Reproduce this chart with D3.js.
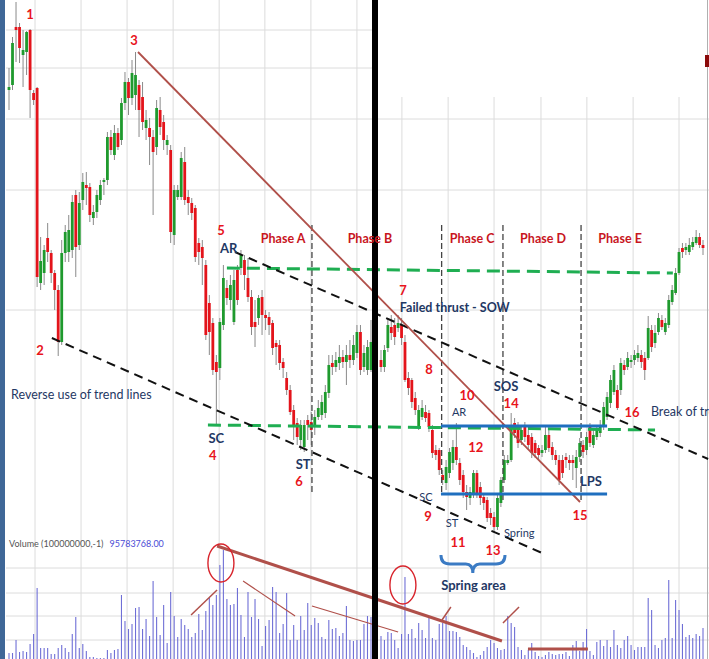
<!DOCTYPE html>
<html>
<head>
<meta charset="utf-8">
<script src="https://cdn.jsdelivr.net/npm/d3@7"></script>
<style>
body { margin: 0; background: #fff; }
svg { display: block; }
text { font-family: Lato, "Open Sans", sans-serif; }
</style>
</head>
<body>
<div id="chart"></div>
<script>
// two charts pasted side by side: left part (before the cut) and right part
const leftOpen = [450,455,513,513,485,488,510,447,452,257, 267,302,287,267,250,198,287,288,290,345, 295,340,355,353,322,328,340,358,360,403, 385,407,400,437,458,442,445,455,443,412, 412,403,393,430,418,395,390,305,343,343, 378,343,337,332,297,293,275,237,217,178, 172,215,252,240,218,270,272,280,262,243, 218,222,243,225,223,217,197,195,178,162, 150,130,117,100,93,120,118,113,123,125, 127,147,177,173,177,183,178,185,180,187, 208,173,170,170]
const leftHigh = [472,503,538,517,510,509,511,450,453,303, 295,317,290,270,255,300,315,325,345,350, 348,367,368,357,335,350,360,362,408,410, 415,412,442,468,462,480,488,460,458,430, 422,410,440,443,425,405,395,355,355,388, 393,350,342,335,302,300,280,245,222,185, 222,275,260,265,270,275,290,285,282,250, 240,245,250,230,228,220,200,200,182,168, 155,135,122,120,120,125,128,130,140,145, 155,185,185,188,195,190,195,200,205,215, 215,195,200,220]
const leftLow = [430,450,478,477,453,465,422,435,253,250, 255,278,257,230,184,195,278,278,282,263, 290,330,335,318,315,322,335,345,355,385, 380,390,395,430,425,435,430,403,410,400, 375,325,385,405,390,385,297,295,340,340, 335,325,320,278,275,255,200,185,165,115, 160,210,235,230,215,235,265,250,238,205, 193,215,205,210,205,185,175,170,162,145, 125,100,95,90,88,100,95,105,120,120, 122,142,165,168,170,172,155,172,175,182, 165,168,165,168]
const leftClose = [453,497,510,492,490,508,450,440,263,279, 290,288,267,250,198,287,308,310,338,293, 337,358,352,325,328,345,355,360,403,390, 407,393,437,458,442,467,465,430,418,420, 403,388,432,413,400,400,308,350,350,382, 340,337,327,283,288,282,205,208,170,168, 218,262,242,255,260,240,285,265,243,213, 213,242,225,222,215,192,193,177,172,150, 128,115,103,115,115,115,110,123,132,138, 148,175,173,180,183,178,185,180,195,208, 170,187,193,198]
const leftVolume = [7,7,20,8,9,8,16,26,72,12, 12,12,6,6,12,15,12,8,26,43, 12,16,9,3,3,2,2,2,10,7, 10,11,65,39,31,36,52,53,31,41, 24,79,43,25,55,17,68,44,23,41, 35,31,23,27,46,30,49,62,55,65, 95,110,61,55,56,72,45,23,68,43, 61,41,14,34,40,73,68,27,36,67, 20,35,20,44,30,57,35,42,37,23, 21,40,31,32,24,27,54,20,19,20, 20,36,44,43]

const rightOpen = [180,173,192,213,215,212,215,198,162,160, 142,113,123,128,127,110,90,90,65,57, 67,77,93,77,65,48,42,47,67,53, 43,40,27,23,13,37,60,77,80,117, 113,100,113,105,103,97,92,87,90,105, 93,85,80,80,83,80,80,72,83,95, 90,113,95,103,107,113,123,137,148,150, 150,175,173,178,180,182,185,182,182,210, 197,208,220,208,215,238,247,267,292,290, 288,293,297,303,295]
const rightHigh = [190,195,222,225,222,225,222,205,168,162, 148,135,140,135,130,115,95,92,70,80, 92,100,117,82,70,55,53,70,70,58, 47,43,32,28,45,63,85,85,127,122, 118,115,118,110,107,100,95,95,115,110, 98,90,85,85,87,85,85,90,102,100, 108,117,110,115,120,138,148,165,175,155, 182,180,188,185,190,195,190,188,224,215, 215,227,225,222,245,255,272,292,297,297, 302,303,310,307,300]
const rightLow = [168,168,188,200,195,208,195,158,145,132, 125,110,120,118,108,82,80,65,55,50, 62,70,75,55,42,30,35,42,42,35, 30,18,15,8,10,33,57,75,78,102, 92,95,98,90,82,82,80,83,87,88, 80,75,55,62,72,70,60,52,78,82, 85,93,92,100,103,110,120,132,145,130, 145,165,170,172,175,178,172,160,180,188, 192,205,210,205,212,235,245,265,282,285, 285,290,295,292,285]
const rightClose = [173,190,215,207,203,217,202,160,152,138, 130,130,132,122,113,87,85,70,60,73, 88,93,80,60,48,43,48,67,47,42, 37,22,22,13,42,60,80,80,115,107, 97,110,103,95,87,87,85,90,105,92, 85,80,60,67,80,77,77,83,97,88, 103,97,105,110,115,133,143,160,170,132, 177,170,182,180,185,187,178,170,212,193, 207,222,213,217,240,250,267,288,288,293, 295,298,303,295,292]
const rightVolume = [24,20,28,27,20,12,26,83,26,31, 22,37,30,22,42,22,20,36,37,44, 29,29,28,23,15,13,10,7,3,5, 9,13,20,17,12,10,11,44,37,33, 13,10,5,10,17,8,4,3,5,8, 6,5,6,6,8,4,15,19,9,18, 31,9,5,18,20,14,20,13,30,15, 12,20,24,15,10,13,13,13,62,50, 15,12,20,22,80,22,60,50,36,23, 25,22,26,24,32]

// grid ticks (candle index / price / volume)
const leftGridX = [7.4, 20.5, 33.6, 46.7, 59.8, 72.8, 85.9, 99.0]
const rightGridX = [110.1, 123.6, 137.0, 150.7, 164.1, 177.6, 191.0]
const leftGridPrice = [510, 472, 421, 350, 230]
const rightGridPrice = [421, 350, 230]
const volumeGrid = [92, 67, 44, 20]

// annotations: [text, candle index, price]
const redNumbers = [['1',6.0,526],['2',8.8,190],['3',35.6,500],['4',58.0,85],['5',60.3,310],['6',82.5,59],
  ['7',110.4,250],['8',118.0,171],['9',117.7,24],['10',129.1,145],['11',126.5,-2],['12',131.7,93],
  ['13',136.7,-10],['14',142.0,137],['15',162.1,25],['16',177.3,128]]
const blueLabels = [['AR',62.5,292,13,700,'middle'],['SC',59.0,102,13,700,'middle'],['ST',83.7,76,13,700,'middle'],
  ['Reverse use of trend lines',0.6,145,12.5,400,'start'],['Failed thrust - SOW',109.5,232,12.5,700,'start'],
  ['SOS',140.5,154,13,700,'middle'],['AR',126.8,128,11,400,'middle'],['SC',117.1,43,11,400,'middle'],
  ['ST',124.7,17,11,400,'middle'],['Spring',139.9,7,11,400,'start'],['LPS',165.3,59,13,700,'middle'],
  ['Break of trend',182.8,128,12.5,400,'start']]
const phaseLabels = [['Phase A',78.0],['Phase B',102.7],['Phase C',130.6],['Phase D',151.3],['Phase E',173.8]]
const phaseLines = [[86.2,46],[121.7,48],[139.6,40],[162.4,40]]
const greenLines = [[62.0,272,189.2,267],[56.6,115,184.0,110]]
const blackLines = [[64.3,288,199.5,81],[12.2,202,151.0,-13]]
const brownLines = [[36.7,488,162.1,38]]
const blueLines = [[121.5,114,170.0,114],[121.5,46,170.0,46]]
const volumeLines = [[59.2,114,139.3,19,3],[51.8,45,59.2,70,1.5],[66.6,79,81.4,44,1.2],[86.2,54,109.0,28,1.2],
  [121.8,40,124.4,53,1.5],[139.6,37,144.3,53,1.5],[146.9,11,164.4,11,3]]
const volumeCircles = [[60.3,97],[110.4,75]]

const W = 709, H = 659
const nLeft = leftOpen.length

const candles = []
leftOpen.forEach((o, i) => candles.push({ i, o, h: leftHigh[i], l: leftLow[i], c: leftClose[i], v: leftVolume[i] }))
rightOpen.forEach((o, j) => candles.push({ i: nLeft + j, o, h: rightHigh[j], l: rightLow[j], c: rightClose[j], v: rightVolume[j] }))
const last = candles.length - 1

const x = d3.scaleLinear().domain([0, nLeft - 1, nLeft, last]).range([9, 371, 381, 703])
const y = d3.scaleLinear().domain([0, 540]).range([540, 0])
const vy = d3.scaleLinear().domain([0, 120]).range([660, 540])

const svg = d3.select('#chart').append('svg').attr('width', W).attr('height', H)
svg.append('rect').attr('width', W).attr('height', H).attr('fill', '#fff')

// grid
const grid = svg.append('g').attr('stroke', '#dcdcdc').attr('stroke-width', 1)
grid.selectAll('.gl').data(leftGridX).enter().append('line')
  .attr('x1', d => x(d)).attr('x2', d => x(d)).attr('y1', 0).attr('y2', H)
grid.selectAll('.gr').data(rightGridX).enter().append('line')
  .attr('x1', d => x(d)).attr('x2', d => x(d)).attr('y1', y(443)).attr('y2', H)
grid.selectAll('.hl').data(leftGridPrice).enter().append('line')
  .attr('x1', 6).attr('x2', x(nLeft - 0.7)).attr('y1', d => y(d)).attr('y2', d => y(d))
grid.selectAll('.hr').data(rightGridPrice).enter().append('line')
  .attr('x1', x(nLeft - 0.7)).attr('x2', W).attr('y1', d => y(d)).attr('y2', d => y(d))
grid.selectAll('.hv').data(volumeGrid).enter().append('line')
  .attr('x1', 6).attr('x2', W).attr('y1', d => vy(d)).attr('y2', d => vy(d))

// right axis line + marker
svg.append('line').attr('x1', 707.5).attr('x2', 707.5).attr('y1', 0).attr('y2', H).attr('stroke', '#b0b0b0')
svg.append('rect').attr('x', 705).attr('y', 55).attr('width', 4).attr('height', 12).attr('fill', '#8b0a0a')

// volume bars
svg.append('g').selectAll('line').data(candles).enter().append('line')
  .attr('x1', d => x(d.i)).attr('x2', d => x(d.i))
  .attr('y1', d => vy(d.v)).attr('y2', H)
  .attr('stroke', '#6f6fd6').attr('stroke-width', 1.1)

// candles
const cg = svg.append('g')
cg.selectAll('.wick').data(candles).enter().append('line')
  .attr('x1', d => x(d.i)).attr('x2', d => x(d.i))
  .attr('y1', d => y(d.h)).attr('y2', d => y(d.l))
  .attr('stroke', '#8a8a8a').attr('stroke-width', 1)
cg.selectAll('.body').data(candles).enter().append('rect')
  .attr('x', d => x(d.i) - 1.4).attr('width', 2.8)
  .attr('y', d => y(Math.max(d.o, d.c)))
  .attr('height', d => Math.max(1.5, Math.abs(y(d.o) - y(d.c))))
  .attr('fill', d => d.c >= d.o ? '#1f9a2e' : '#e3141b')

// phase separators
svg.append('g').selectAll('line').data(phaseLines).enter().append('line')
  .attr('x1', d => x(d[0])).attr('x2', d => x(d[0])).attr('y1', y(315)).attr('y2', d => y(d[1]))
  .attr('stroke', '#444').attr('stroke-width', 1.3).attr('stroke-dasharray', '6,3')

const seg = (g, data, color, width, dash) => g.selectAll(null).data(data).enter().append('line')
  .attr('x1', d => x(d[0])).attr('y1', d => y(d[1])).attr('x2', d => x(d[2])).attr('y2', d => y(d[3]))
  .attr('stroke', color).attr('stroke-width', width).attr('stroke-dasharray', dash)

const ann = svg.append('g')
seg(ann, greenLines, '#1fae52', 3, '13,7')
seg(ann, blackLines, '#111', 2, '9,6')
seg(ann, brownLines, '#b0504a', 1.8, null)
seg(ann, blueLines, '#1f6fbf', 3.2, null)

// volume annotations
ann.selectAll('.vl').data(volumeLines).enter().append('line')
  .attr('x1', d => x(d[0])).attr('y1', d => vy(d[1])).attr('x2', d => x(d[2])).attr('y2', d => vy(d[3]))
  .attr('stroke', '#b0504a').attr('stroke-width', d => d[4])
ann.selectAll('ellipse').data(volumeCircles).enter().append('ellipse')
  .attr('cx', d => x(d[0])).attr('cy', d => vy(d[1])).attr('rx', 13).attr('ry', 19)
  .attr('fill', 'none').attr('stroke', '#d8242c').attr('stroke-width', 1.4)

// brace under spring area
const bx1 = x(121.5), bx2 = x(140.2), bt = x(130.8), by = vy(105), bm = vy(96), bp = vy(87)
ann.append('path')
  .attr('d', `M${bx1},${by} Q${bx1},${bm} ${bx1 + 9},${bm} L${bt - 7},${bm} Q${bt},${bm} ${bt},${bp} Q${bt},${bm} ${bt + 7},${bm} L${bx2 - 9},${bm} Q${bx2},${bm} ${bx2},${by}`)
  .attr('fill', 'none').attr('stroke', '#3b7bc4').attr('stroke-width', 3)

// separator between the two pasted charts
svg.append('rect').attr('x', x(nLeft - 0.6) - 3).attr('y', 0).attr('width', 6).attr('height', H).attr('fill', '#000')
// left border
svg.append('rect').attr('x', 0).attr('y', 0).attr('width', 5).attr('height', H).attr('fill', '#3f6797')

// texts
const tg = svg.append('g')
tg.selectAll('.rn').data(redNumbers).enter().append('text')
  .attr('x', d => x(d[1])).attr('y', d => y(d[2])).attr('dy', '0.35em')
  .attr('text-anchor', 'middle').attr('font-size', 13).attr('font-weight', 700).attr('fill', '#e8141c')
  .text(d => d[0])
tg.selectAll('.bl').data(blueLabels).enter().append('text')
  .attr('x', d => x(d[1])).attr('y', d => y(d[2])).attr('dy', '0.35em')
  .attr('text-anchor', d => d[5]).attr('font-size', d => d[3]).attr('font-weight', d => d[4]).attr('fill', '#1f3864')
  .text(d => d[0])
tg.selectAll('.ph').data(phaseLabels).enter().append('text')
  .attr('x', d => x(d[1])).attr('y', y(301)).attr('dy', '0.35em')
  .attr('text-anchor', 'middle').attr('font-size', 12.5).attr('font-weight', 700).attr('fill', '#c8161e')
  .text(d => d[0])
tg.append('text').attr('x', x(131)).attr('y', vy(75)).attr('dy', '0.35em')
  .attr('text-anchor', 'middle').attr('font-size', 13).attr('font-weight', 700).attr('fill', '#1f3864')
  .text('Spring area')
const vl = tg.append('text').attr('x', x(0)).attr('y', vy(116)).attr('dy', '0.35em')
  .attr('font-family', 'Liberation Sans, sans-serif').attr('font-size', 9)
vl.append('tspan').attr('fill', '#555').text('Volume (100000000,-1)')
vl.append('tspan').attr('fill', '#4b4bd6').attr('dx', 6).text('95783768.00')
</script>
</body>
</html>
